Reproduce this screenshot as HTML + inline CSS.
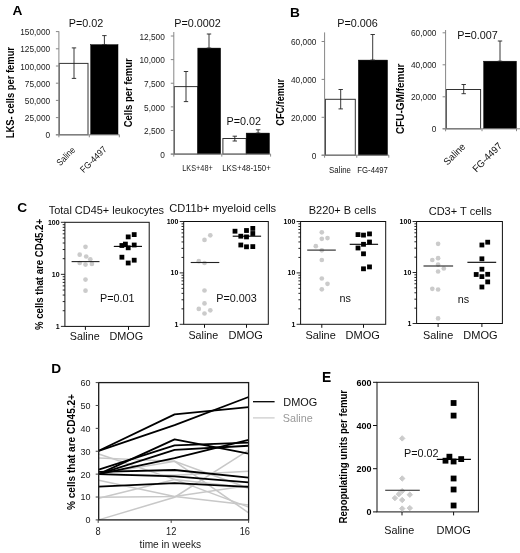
<!DOCTYPE html>
<html><head><meta charset="utf-8"><title>Figure</title>
<style>
html,body{margin:0;padding:0;background:#fff;}
body{width:520px;height:553px;overflow:hidden;}
svg{display:block;font-family:"Liberation Sans", sans-serif;}
</style></head>
<body>
<svg width="520" height="553" viewBox="0 0 520 553">
<defs><filter id="soft" x="0" y="0" width="100%" height="100%" filterUnits="userSpaceOnUse"><feGaussianBlur stdDeviation="0.38"/></filter></defs>
<rect x="0" y="0" width="520" height="553" fill="#ffffff"/>
<g filter="url(#soft)">
<rect x="0" y="0" width="520" height="553" fill="#ffffff"/>
<text x="12.6" y="15.2" font-size="13.7" font-weight="bold" text-anchor="start" fill="#000" >A</text>
<text x="290.0" y="16.7" font-size="13.7" font-weight="bold" text-anchor="start" fill="#000" >B</text>
<text x="17.2" y="211.9" font-size="13.7" font-weight="bold" text-anchor="start" fill="#000" >C</text>
<text x="51.2" y="373.3" font-size="13.7" font-weight="bold" text-anchor="start" fill="#000" >D</text>
<text x="322.0" y="382.1" font-size="13.8" font-weight="bold" text-anchor="start" fill="#000" >E</text>
<rect x="59.2" y="63.4" width="28.799999999999997" height="71.4" fill="#fff" stroke="#333" stroke-width="1"/>
<rect x="90.7" y="44.7" width="27.299999999999997" height="90.10000000000001" fill="#000" stroke="#000" stroke-width="0.5"/>
<line x1="74" y1="47.9" x2="74" y2="78.4" stroke="#222" stroke-width="0.9" />
<line x1="71.8" y1="47.9" x2="76.2" y2="47.9" stroke="#222" stroke-width="0.9" />
<line x1="71.8" y1="78.4" x2="76.2" y2="78.4" stroke="#222" stroke-width="0.9" />
<line x1="104.4" y1="35.6" x2="104.4" y2="44.7" stroke="#222" stroke-width="0.9" />
<line x1="102.2" y1="35.6" x2="106.60000000000001" y2="35.6" stroke="#222" stroke-width="0.9" />
<line x1="102.2" y1="44.7" x2="106.60000000000001" y2="44.7" stroke="#222" stroke-width="0.9" />
<line x1="58.9" y1="31.3" x2="58.9" y2="137.3" stroke="#868686" stroke-width="1" />
<line x1="55.9" y1="134.8" x2="119.5" y2="134.8" stroke="#868686" stroke-width="1" />
<line x1="55.9" y1="134.8" x2="58.9" y2="134.8" stroke="#868686" stroke-width="1" />
<text x="50.2" y="138.488" font-size="9.38" font-weight="normal" text-anchor="end" fill="#1a1a1a" textLength="4.62" lengthAdjust="spacingAndGlyphs" >0</text>
<line x1="55.9" y1="117.60000000000001" x2="58.9" y2="117.60000000000001" stroke="#868686" stroke-width="1" />
<text x="50.2" y="121.28800000000001" font-size="9.38" font-weight="normal" text-anchor="end" fill="#1a1a1a" textLength="25.39" lengthAdjust="spacingAndGlyphs" >25,000</text>
<line x1="55.9" y1="100.4" x2="58.9" y2="100.4" stroke="#868686" stroke-width="1" />
<text x="50.2" y="104.08800000000001" font-size="9.38" font-weight="normal" text-anchor="end" fill="#1a1a1a" textLength="25.39" lengthAdjust="spacingAndGlyphs" >50,000</text>
<line x1="55.9" y1="83.20000000000002" x2="58.9" y2="83.20000000000002" stroke="#868686" stroke-width="1" />
<text x="50.2" y="86.88800000000002" font-size="9.38" font-weight="normal" text-anchor="end" fill="#1a1a1a" textLength="25.39" lengthAdjust="spacingAndGlyphs" >75,000</text>
<line x1="55.9" y1="66.00000000000001" x2="58.9" y2="66.00000000000001" stroke="#868686" stroke-width="1" />
<text x="50.2" y="69.68800000000002" font-size="9.38" font-weight="normal" text-anchor="end" fill="#1a1a1a" textLength="30.0" lengthAdjust="spacingAndGlyphs" >100,000</text>
<line x1="55.9" y1="48.80000000000001" x2="58.9" y2="48.80000000000001" stroke="#868686" stroke-width="1" />
<text x="50.2" y="52.488000000000014" font-size="9.38" font-weight="normal" text-anchor="end" fill="#1a1a1a" textLength="30.0" lengthAdjust="spacingAndGlyphs" >125,000</text>
<line x1="55.9" y1="31.600000000000023" x2="58.9" y2="31.600000000000023" stroke="#868686" stroke-width="1" />
<text x="50.2" y="35.288000000000025" font-size="9.38" font-weight="normal" text-anchor="end" fill="#1a1a1a" textLength="30.0" lengthAdjust="spacingAndGlyphs" >150,000</text>
<line x1="89.3" y1="134.8" x2="89.3" y2="137.3" stroke="#868686" stroke-width="1" />
<line x1="119.3" y1="134.8" x2="119.3" y2="137.3" stroke="#868686" stroke-width="1" />
<text x="86" y="27.099999999999998" font-size="10.8" font-weight="normal" text-anchor="middle" fill="#111" >P=0.02</text>
<text x="14.1" y="92.6" font-size="11.21" font-weight="bold" text-anchor="middle" fill="#000" transform="rotate(-90 14.1 92.6)" textLength="91.2" lengthAdjust="spacingAndGlyphs" >LKS- cells per femur</text>
<text x="75.8" y="150.6" font-size="9.2" font-weight="normal" text-anchor="end" fill="#111" transform="rotate(-45 75.8 150.6)" textLength="22" lengthAdjust="spacingAndGlyphs" >Saline</text>
<text x="107.2" y="150.0" font-size="9.2" font-weight="normal" text-anchor="end" fill="#111" transform="rotate(-45 107.2 150.0)" textLength="33" lengthAdjust="spacingAndGlyphs" >FG-4497</text>
<rect x="174.3" y="86.6" width="23.5" height="67.5" fill="#fff" stroke="#333" stroke-width="1"/>
<rect x="197.8" y="48.1" width="22.799999999999983" height="106.0" fill="#000" stroke="#000" stroke-width="0.5"/>
<rect x="222.9" y="138.5" width="23.299999999999983" height="15.599999999999994" fill="#fff" stroke="#333" stroke-width="1"/>
<rect x="246.2" y="133.1" width="23.19999999999999" height="21.0" fill="#000" stroke="#000" stroke-width="0.5"/>
<line x1="186" y1="71.5" x2="186" y2="101.6" stroke="#222" stroke-width="0.9" />
<line x1="183.8" y1="71.5" x2="188.2" y2="71.5" stroke="#222" stroke-width="0.9" />
<line x1="183.8" y1="101.6" x2="188.2" y2="101.6" stroke="#222" stroke-width="0.9" />
<line x1="209" y1="34" x2="209" y2="48.1" stroke="#222" stroke-width="0.9" />
<line x1="206.8" y1="34" x2="211.2" y2="34" stroke="#222" stroke-width="0.9" />
<line x1="206.8" y1="48.1" x2="211.2" y2="48.1" stroke="#222" stroke-width="0.9" />
<line x1="234.8" y1="136.2" x2="234.8" y2="141" stroke="#222" stroke-width="0.9" />
<line x1="232.60000000000002" y1="136.2" x2="237.0" y2="136.2" stroke="#222" stroke-width="0.9" />
<line x1="232.60000000000002" y1="141" x2="237.0" y2="141" stroke="#222" stroke-width="0.9" />
<line x1="258.1" y1="129.8" x2="258.1" y2="133.1" stroke="#222" stroke-width="0.9" />
<line x1="255.90000000000003" y1="129.8" x2="260.3" y2="129.8" stroke="#222" stroke-width="0.9" />
<line x1="255.90000000000003" y1="133.1" x2="260.3" y2="133.1" stroke="#222" stroke-width="0.9" />
<line x1="173.8" y1="32" x2="173.8" y2="156.6" stroke="#868686" stroke-width="1" />
<line x1="170.8" y1="154.1" x2="270.8" y2="154.1" stroke="#868686" stroke-width="1" />
<line x1="170.8" y1="154.1" x2="173.8" y2="154.1" stroke="#868686" stroke-width="1" />
<text x="164.8" y="157.78799999999998" font-size="9.38" font-weight="normal" text-anchor="end" fill="#1a1a1a" textLength="4.62" lengthAdjust="spacingAndGlyphs" >0</text>
<line x1="170.8" y1="130.48" x2="173.8" y2="130.48" stroke="#868686" stroke-width="1" />
<text x="164.8" y="134.16799999999998" font-size="9.38" font-weight="normal" text-anchor="end" fill="#1a1a1a" textLength="20.77" lengthAdjust="spacingAndGlyphs" >2,500</text>
<line x1="170.8" y1="106.85999999999999" x2="173.8" y2="106.85999999999999" stroke="#868686" stroke-width="1" />
<text x="164.8" y="110.54799999999999" font-size="9.38" font-weight="normal" text-anchor="end" fill="#1a1a1a" textLength="20.77" lengthAdjust="spacingAndGlyphs" >5,000</text>
<line x1="170.8" y1="83.24" x2="173.8" y2="83.24" stroke="#868686" stroke-width="1" />
<text x="164.8" y="86.928" font-size="9.38" font-weight="normal" text-anchor="end" fill="#1a1a1a" textLength="20.77" lengthAdjust="spacingAndGlyphs" >7,500</text>
<line x1="170.8" y1="59.61999999999999" x2="173.8" y2="59.61999999999999" stroke="#868686" stroke-width="1" />
<text x="164.8" y="63.30799999999999" font-size="9.38" font-weight="normal" text-anchor="end" fill="#1a1a1a" textLength="25.39" lengthAdjust="spacingAndGlyphs" >10,000</text>
<line x1="170.8" y1="35.999999999999986" x2="173.8" y2="35.999999999999986" stroke="#868686" stroke-width="1" />
<text x="164.8" y="39.68799999999999" font-size="9.38" font-weight="normal" text-anchor="end" fill="#1a1a1a" textLength="25.39" lengthAdjust="spacingAndGlyphs" >12,500</text>
<line x1="221.8" y1="154.1" x2="221.8" y2="156.6" stroke="#868686" stroke-width="1" />
<line x1="270.6" y1="154.1" x2="270.6" y2="156.6" stroke="#868686" stroke-width="1" />
<text x="197.5" y="27" font-size="10.8" font-weight="normal" text-anchor="middle" fill="#111" >P=0.0002</text>
<text x="243.8" y="124.5" font-size="10.8" font-weight="normal" text-anchor="middle" fill="#111" >P=0.02</text>
<text x="132.4" y="92.8" font-size="11.21" font-weight="bold" text-anchor="middle" fill="#000" transform="rotate(-90 132.4 92.8)" textLength="69" lengthAdjust="spacingAndGlyphs" >Cells per femur</text>
<text x="197.5" y="171.0" font-size="8.74" font-weight="normal" text-anchor="middle" fill="#1a1a1a" textLength="30.5" lengthAdjust="spacingAndGlyphs" >LKS+48+</text>
<text x="246.5" y="171.0" font-size="8.74" font-weight="normal" text-anchor="middle" fill="#1a1a1a" textLength="48.5" lengthAdjust="spacingAndGlyphs" >LKS+48-150+</text>
<rect x="325.4" y="99.3" width="29.900000000000034" height="55.89999999999999" fill="#fff" stroke="#333" stroke-width="1"/>
<rect x="358.4" y="60.1" width="29.100000000000023" height="95.1" fill="#000" stroke="#000" stroke-width="0.5"/>
<line x1="340.7" y1="89.5" x2="340.7" y2="108.9" stroke="#222" stroke-width="0.9" />
<line x1="338.5" y1="89.5" x2="342.9" y2="89.5" stroke="#222" stroke-width="0.9" />
<line x1="338.5" y1="108.9" x2="342.9" y2="108.9" stroke="#222" stroke-width="0.9" />
<line x1="372.7" y1="34.5" x2="372.7" y2="60.1" stroke="#222" stroke-width="0.9" />
<line x1="370.5" y1="34.5" x2="374.9" y2="34.5" stroke="#222" stroke-width="0.9" />
<line x1="370.5" y1="60.1" x2="374.9" y2="60.1" stroke="#222" stroke-width="0.9" />
<line x1="324.6" y1="32.4" x2="324.6" y2="157.7" stroke="#868686" stroke-width="1" />
<line x1="321.6" y1="155.2" x2="389" y2="155.2" stroke="#868686" stroke-width="1" />
<line x1="321.6" y1="155.2" x2="324.6" y2="155.2" stroke="#868686" stroke-width="1" />
<text x="316.4" y="158.88799999999998" font-size="9.38" font-weight="normal" text-anchor="end" fill="#1a1a1a" textLength="4.62" lengthAdjust="spacingAndGlyphs" >0</text>
<line x1="321.6" y1="117.29999999999998" x2="324.6" y2="117.29999999999998" stroke="#868686" stroke-width="1" />
<text x="316.4" y="120.98799999999999" font-size="9.38" font-weight="normal" text-anchor="end" fill="#1a1a1a" textLength="25.39" lengthAdjust="spacingAndGlyphs" >20,000</text>
<line x1="321.6" y1="79.39999999999999" x2="324.6" y2="79.39999999999999" stroke="#868686" stroke-width="1" />
<text x="316.4" y="83.088" font-size="9.38" font-weight="normal" text-anchor="end" fill="#1a1a1a" textLength="25.39" lengthAdjust="spacingAndGlyphs" >40,000</text>
<line x1="321.6" y1="41.5" x2="324.6" y2="41.5" stroke="#868686" stroke-width="1" />
<text x="316.4" y="45.188" font-size="9.38" font-weight="normal" text-anchor="end" fill="#1a1a1a" textLength="25.39" lengthAdjust="spacingAndGlyphs" >60,000</text>
<line x1="356.8" y1="155.2" x2="356.8" y2="157.7" stroke="#868686" stroke-width="1" />
<line x1="388.8" y1="155.2" x2="388.8" y2="157.7" stroke="#868686" stroke-width="1" />
<text x="357.5" y="27" font-size="10.8" font-weight="normal" text-anchor="middle" fill="#111" >P=0.006</text>
<text x="284.3" y="102.3" font-size="11.21" font-weight="bold" text-anchor="middle" fill="#000" transform="rotate(-90 284.3 102.3)" textLength="46.8" lengthAdjust="spacingAndGlyphs" >CFC/femur</text>
<text x="340.0" y="172.5" font-size="9.41" font-weight="normal" text-anchor="middle" fill="#111" textLength="21.8" lengthAdjust="spacingAndGlyphs" >Saline</text>
<text x="372.6" y="172.5" font-size="9.35" font-weight="normal" text-anchor="middle" fill="#111" textLength="30.5" lengthAdjust="spacingAndGlyphs" >FG-4497</text>
<rect x="446.3" y="89.5" width="34.30000000000001" height="39.30000000000001" fill="#fff" stroke="#333" stroke-width="1"/>
<rect x="483.7" y="61.2" width="32.69999999999999" height="67.60000000000001" fill="#000" stroke="#000" stroke-width="0.5"/>
<line x1="463.7" y1="84.5" x2="463.7" y2="93.7" stroke="#222" stroke-width="0.9" />
<line x1="461.5" y1="84.5" x2="465.9" y2="84.5" stroke="#222" stroke-width="0.9" />
<line x1="461.5" y1="93.7" x2="465.9" y2="93.7" stroke="#222" stroke-width="0.9" />
<line x1="500" y1="41" x2="500" y2="61.2" stroke="#222" stroke-width="0.9" />
<line x1="497.8" y1="41" x2="502.2" y2="41" stroke="#222" stroke-width="0.9" />
<line x1="497.8" y1="61.2" x2="502.2" y2="61.2" stroke="#222" stroke-width="0.9" />
<line x1="445.6" y1="30" x2="445.6" y2="131.3" stroke="#868686" stroke-width="1" />
<line x1="442.6" y1="128.8" x2="520" y2="128.8" stroke="#868686" stroke-width="1" />
<line x1="442.6" y1="128.8" x2="445.6" y2="128.8" stroke="#868686" stroke-width="1" />
<text x="436.4" y="132.488" font-size="9.38" font-weight="normal" text-anchor="end" fill="#1a1a1a" textLength="4.62" lengthAdjust="spacingAndGlyphs" >0</text>
<line x1="442.6" y1="96.80000000000001" x2="445.6" y2="96.80000000000001" stroke="#868686" stroke-width="1" />
<text x="436.4" y="100.48800000000001" font-size="9.38" font-weight="normal" text-anchor="end" fill="#1a1a1a" textLength="25.39" lengthAdjust="spacingAndGlyphs" >20,000</text>
<line x1="442.6" y1="64.80000000000001" x2="445.6" y2="64.80000000000001" stroke="#868686" stroke-width="1" />
<text x="436.4" y="68.48800000000001" font-size="9.38" font-weight="normal" text-anchor="end" fill="#1a1a1a" textLength="25.39" lengthAdjust="spacingAndGlyphs" >40,000</text>
<line x1="442.6" y1="32.80000000000001" x2="445.6" y2="32.80000000000001" stroke="#868686" stroke-width="1" />
<text x="436.4" y="36.488000000000014" font-size="9.38" font-weight="normal" text-anchor="end" fill="#1a1a1a" textLength="25.39" lengthAdjust="spacingAndGlyphs" >60,000</text>
<line x1="482" y1="128.75" x2="482" y2="131.2" stroke="#868686" stroke-width="1" />
<line x1="516.5" y1="128.75" x2="516.5" y2="131.2" stroke="#868686" stroke-width="1" />
<text x="477.5" y="38.5" font-size="10.8" font-weight="normal" text-anchor="middle" fill="#111" >P=0.007</text>
<text x="404" y="98.8" font-size="11.21" font-weight="bold" text-anchor="middle" fill="#000" transform="rotate(-90 404 98.8)" textLength="70.6" lengthAdjust="spacingAndGlyphs" >CFU-GM/femur</text>
<text x="466" y="147.3" font-size="9.9" font-weight="normal" text-anchor="end" fill="#111" transform="rotate(-45 466 147.3)" textLength="26" lengthAdjust="spacingAndGlyphs" >Saline</text>
<text x="502.6" y="146.6" font-size="9.9" font-weight="normal" text-anchor="end" fill="#111" transform="rotate(-45 502.6 146.6)" textLength="37" lengthAdjust="spacingAndGlyphs" >FG-4497</text>
<rect x="64.9" y="222.3" width="84.29999999999998" height="104.09999999999997" fill="none" stroke="#111" stroke-width="1"/>
<line x1="60.900000000000006" y1="326.4" x2="64.9" y2="326.4" stroke="#111" stroke-width="0.9" />
<line x1="62.7" y1="310.73" x2="64.9" y2="310.73" stroke="#111" stroke-width="0.9" />
<line x1="62.7" y1="301.57" x2="64.9" y2="301.57" stroke="#111" stroke-width="0.9" />
<line x1="62.7" y1="295.06" x2="64.9" y2="295.06" stroke="#111" stroke-width="0.9" />
<line x1="62.7" y1="290.02" x2="64.9" y2="290.02" stroke="#111" stroke-width="0.9" />
<line x1="62.7" y1="285.9" x2="64.9" y2="285.9" stroke="#111" stroke-width="0.9" />
<line x1="62.7" y1="282.41" x2="64.9" y2="282.41" stroke="#111" stroke-width="0.9" />
<line x1="62.7" y1="279.39" x2="64.9" y2="279.39" stroke="#111" stroke-width="0.9" />
<line x1="62.7" y1="276.73" x2="64.9" y2="276.73" stroke="#111" stroke-width="0.9" />
<line x1="60.900000000000006" y1="274.35" x2="64.9" y2="274.35" stroke="#111" stroke-width="0.9" />
<line x1="62.7" y1="258.68" x2="64.9" y2="258.68" stroke="#111" stroke-width="0.9" />
<line x1="62.7" y1="249.52" x2="64.9" y2="249.52" stroke="#111" stroke-width="0.9" />
<line x1="62.7" y1="243.01" x2="64.9" y2="243.01" stroke="#111" stroke-width="0.9" />
<line x1="62.7" y1="237.97" x2="64.9" y2="237.97" stroke="#111" stroke-width="0.9" />
<line x1="62.7" y1="233.85" x2="64.9" y2="233.85" stroke="#111" stroke-width="0.9" />
<line x1="62.7" y1="230.36" x2="64.9" y2="230.36" stroke="#111" stroke-width="0.9" />
<line x1="62.7" y1="227.34" x2="64.9" y2="227.34" stroke="#111" stroke-width="0.9" />
<line x1="62.7" y1="224.68" x2="64.9" y2="224.68" stroke="#111" stroke-width="0.9" />
<line x1="60.900000000000006" y1="222.3" x2="64.9" y2="222.3" stroke="#111" stroke-width="0.9" />
<text x="59.60000000000001" y="224.60000000000002" font-size="7.56" font-weight="bold" text-anchor="end" fill="#000" textLength="11.68" lengthAdjust="spacingAndGlyphs" >100</text>
<text x="59.60000000000001" y="276.65000000000003" font-size="7.56" font-weight="bold" text-anchor="end" fill="#000" textLength="7.79" lengthAdjust="spacingAndGlyphs" >10</text>
<text x="59.60000000000001" y="328.7" font-size="7.56" font-weight="bold" text-anchor="end" fill="#000" textLength="3.89" lengthAdjust="spacingAndGlyphs" >1</text>
<line x1="85.4" y1="326.4" x2="85.4" y2="329.9" stroke="#111" stroke-width="1" />
<line x1="128.5" y1="326.4" x2="128.5" y2="329.9" stroke="#111" stroke-width="1" />
<circle cx="85.5" cy="246.8" r="2.35" fill="#cbcbcb"/>
<circle cx="79.7" cy="254.7" r="2.35" fill="#cbcbcb"/>
<circle cx="86.2" cy="256.5" r="2.35" fill="#cbcbcb"/>
<circle cx="90.3" cy="259.3" r="2.35" fill="#cbcbcb"/>
<circle cx="79.7" cy="263" r="2.35" fill="#cbcbcb"/>
<circle cx="85.5" cy="264.6" r="2.35" fill="#cbcbcb"/>
<circle cx="91.9" cy="263.9" r="2.35" fill="#cbcbcb"/>
<circle cx="85.5" cy="279.6" r="2.35" fill="#cbcbcb"/>
<circle cx="85.5" cy="290.7" r="2.35" fill="#cbcbcb"/>
<rect x="125.8" y="234.5" width="4.8" height="4.8" fill="#000" stroke="none" stroke-width="1"/>
<rect x="131.8" y="232.2" width="4.8" height="4.8" fill="#000" stroke="none" stroke-width="1"/>
<rect x="119.5" y="243.1" width="4.8" height="4.8" fill="#000" stroke="none" stroke-width="1"/>
<rect x="123.0" y="241.7" width="4.8" height="4.8" fill="#000" stroke="none" stroke-width="1"/>
<rect x="125.8" y="245.4" width="4.8" height="4.8" fill="#000" stroke="none" stroke-width="1"/>
<rect x="131.8" y="242.6" width="4.8" height="4.8" fill="#000" stroke="none" stroke-width="1"/>
<rect x="119.5" y="254.8" width="4.8" height="4.8" fill="#000" stroke="none" stroke-width="1"/>
<rect x="125.8" y="260.6" width="4.8" height="4.8" fill="#000" stroke="none" stroke-width="1"/>
<rect x="131.8" y="257.8" width="4.8" height="4.8" fill="#000" stroke="none" stroke-width="1"/>
<line x1="71.6" y1="261.6" x2="99.5" y2="261.6" stroke="#222" stroke-width="1.1" />
<line x1="113.8" y1="246.4" x2="142" y2="246.4" stroke="#000" stroke-width="1.1" />
<text x="117.3" y="301.9" font-size="10.8" font-weight="normal" text-anchor="middle" fill="#111" >P=0.01</text>
<text x="48.7" y="214.3" font-size="10.5" font-weight="normal" text-anchor="start" fill="#111" textLength="115.3" lengthAdjust="spacingAndGlyphs" >Total CD45+ leukocytes</text>
<text x="69.8" y="340.2" font-size="10.8" font-weight="normal" text-anchor="start" fill="#111" textLength="29.8" lengthAdjust="spacingAndGlyphs" >Saline</text>
<text x="109.4" y="340.2" font-size="10.8" font-weight="normal" text-anchor="start" fill="#111" textLength="33.8" lengthAdjust="spacingAndGlyphs" >DMOG</text>
<rect x="183.7" y="221.5" width="84.60000000000002" height="102.80000000000001" fill="none" stroke="#111" stroke-width="1"/>
<line x1="179.7" y1="324.3" x2="183.7" y2="324.3" stroke="#111" stroke-width="0.9" />
<line x1="181.5" y1="308.83" x2="183.7" y2="308.83" stroke="#111" stroke-width="0.9" />
<line x1="181.5" y1="299.78" x2="183.7" y2="299.78" stroke="#111" stroke-width="0.9" />
<line x1="181.5" y1="293.35" x2="183.7" y2="293.35" stroke="#111" stroke-width="0.9" />
<line x1="181.5" y1="288.37" x2="183.7" y2="288.37" stroke="#111" stroke-width="0.9" />
<line x1="181.5" y1="284.3" x2="183.7" y2="284.3" stroke="#111" stroke-width="0.9" />
<line x1="181.5" y1="280.86" x2="183.7" y2="280.86" stroke="#111" stroke-width="0.9" />
<line x1="181.5" y1="277.88" x2="183.7" y2="277.88" stroke="#111" stroke-width="0.9" />
<line x1="181.5" y1="275.25" x2="183.7" y2="275.25" stroke="#111" stroke-width="0.9" />
<line x1="179.7" y1="272.9" x2="183.7" y2="272.9" stroke="#111" stroke-width="0.9" />
<line x1="181.5" y1="257.43" x2="183.7" y2="257.43" stroke="#111" stroke-width="0.9" />
<line x1="181.5" y1="248.38" x2="183.7" y2="248.38" stroke="#111" stroke-width="0.9" />
<line x1="181.5" y1="241.95" x2="183.7" y2="241.95" stroke="#111" stroke-width="0.9" />
<line x1="181.5" y1="236.97" x2="183.7" y2="236.97" stroke="#111" stroke-width="0.9" />
<line x1="181.5" y1="232.9" x2="183.7" y2="232.9" stroke="#111" stroke-width="0.9" />
<line x1="181.5" y1="229.46" x2="183.7" y2="229.46" stroke="#111" stroke-width="0.9" />
<line x1="181.5" y1="226.48" x2="183.7" y2="226.48" stroke="#111" stroke-width="0.9" />
<line x1="181.5" y1="223.85" x2="183.7" y2="223.85" stroke="#111" stroke-width="0.9" />
<line x1="179.7" y1="221.5" x2="183.7" y2="221.5" stroke="#111" stroke-width="0.9" />
<text x="178.39999999999998" y="223.8" font-size="7.56" font-weight="bold" text-anchor="end" fill="#000" textLength="11.68" lengthAdjust="spacingAndGlyphs" >100</text>
<text x="178.39999999999998" y="275.2" font-size="7.56" font-weight="bold" text-anchor="end" fill="#000" textLength="7.79" lengthAdjust="spacingAndGlyphs" >10</text>
<text x="178.39999999999998" y="326.6" font-size="7.56" font-weight="bold" text-anchor="end" fill="#000" textLength="3.89" lengthAdjust="spacingAndGlyphs" >1</text>
<line x1="204.5" y1="324.3" x2="204.5" y2="327.8" stroke="#111" stroke-width="1" />
<line x1="246.5" y1="324.3" x2="246.5" y2="327.8" stroke="#111" stroke-width="1" />
<circle cx="210.3" cy="235.3" r="2.35" fill="#cbcbcb"/>
<circle cx="204.5" cy="239.9" r="2.35" fill="#cbcbcb"/>
<circle cx="198.8" cy="261.2" r="2.35" fill="#cbcbcb"/>
<circle cx="204.5" cy="263" r="2.35" fill="#cbcbcb"/>
<circle cx="204.5" cy="290.5" r="2.35" fill="#cbcbcb"/>
<circle cx="204.5" cy="303.4" r="2.35" fill="#cbcbcb"/>
<circle cx="198.8" cy="308.9" r="2.35" fill="#cbcbcb"/>
<circle cx="210.3" cy="310.3" r="2.35" fill="#cbcbcb"/>
<circle cx="204.5" cy="313.5" r="2.35" fill="#cbcbcb"/>
<rect x="232.6" y="228.8" width="4.8" height="4.8" fill="#000" stroke="none" stroke-width="1"/>
<rect x="244.1" y="228.1" width="4.8" height="4.8" fill="#000" stroke="none" stroke-width="1"/>
<rect x="250.4" y="226.0" width="4.8" height="4.8" fill="#000" stroke="none" stroke-width="1"/>
<rect x="238.4" y="233.8" width="4.8" height="4.8" fill="#000" stroke="none" stroke-width="1"/>
<rect x="244.1" y="234.5" width="4.8" height="4.8" fill="#000" stroke="none" stroke-width="1"/>
<rect x="250.4" y="231.1" width="4.8" height="4.8" fill="#000" stroke="none" stroke-width="1"/>
<rect x="238.4" y="242.6" width="4.8" height="4.8" fill="#000" stroke="none" stroke-width="1"/>
<rect x="244.1" y="244.4" width="4.8" height="4.8" fill="#000" stroke="none" stroke-width="1"/>
<rect x="250.4" y="244.2" width="4.8" height="4.8" fill="#000" stroke="none" stroke-width="1"/>
<line x1="190.7" y1="262.5" x2="219.3" y2="262.5" stroke="#222" stroke-width="1.1" />
<line x1="232.7" y1="236.2" x2="261.1" y2="236.2" stroke="#000" stroke-width="1.1" />
<text x="236.6" y="301.9" font-size="10.8" font-weight="normal" text-anchor="middle" fill="#111" >P=0.003</text>
<text x="169.2" y="212.3" font-size="10.5" font-weight="normal" text-anchor="start" fill="#111" textLength="107" lengthAdjust="spacingAndGlyphs" >CD11b+ myeloid cells</text>
<text x="188.4" y="338.8" font-size="10.8" font-weight="normal" text-anchor="start" fill="#111" textLength="29.8" lengthAdjust="spacingAndGlyphs" >Saline</text>
<text x="228.5" y="338.8" font-size="10.8" font-weight="normal" text-anchor="start" fill="#111" textLength="34.3" lengthAdjust="spacingAndGlyphs" >DMOG</text>
<rect x="300.6" y="221.5" width="85.09999999999997" height="102.80000000000001" fill="none" stroke="#111" stroke-width="1"/>
<line x1="296.6" y1="324.3" x2="300.6" y2="324.3" stroke="#111" stroke-width="0.9" />
<line x1="298.40000000000003" y1="308.83" x2="300.6" y2="308.83" stroke="#111" stroke-width="0.9" />
<line x1="298.40000000000003" y1="299.78" x2="300.6" y2="299.78" stroke="#111" stroke-width="0.9" />
<line x1="298.40000000000003" y1="293.35" x2="300.6" y2="293.35" stroke="#111" stroke-width="0.9" />
<line x1="298.40000000000003" y1="288.37" x2="300.6" y2="288.37" stroke="#111" stroke-width="0.9" />
<line x1="298.40000000000003" y1="284.3" x2="300.6" y2="284.3" stroke="#111" stroke-width="0.9" />
<line x1="298.40000000000003" y1="280.86" x2="300.6" y2="280.86" stroke="#111" stroke-width="0.9" />
<line x1="298.40000000000003" y1="277.88" x2="300.6" y2="277.88" stroke="#111" stroke-width="0.9" />
<line x1="298.40000000000003" y1="275.25" x2="300.6" y2="275.25" stroke="#111" stroke-width="0.9" />
<line x1="296.6" y1="272.9" x2="300.6" y2="272.9" stroke="#111" stroke-width="0.9" />
<line x1="298.40000000000003" y1="257.43" x2="300.6" y2="257.43" stroke="#111" stroke-width="0.9" />
<line x1="298.40000000000003" y1="248.38" x2="300.6" y2="248.38" stroke="#111" stroke-width="0.9" />
<line x1="298.40000000000003" y1="241.95" x2="300.6" y2="241.95" stroke="#111" stroke-width="0.9" />
<line x1="298.40000000000003" y1="236.97" x2="300.6" y2="236.97" stroke="#111" stroke-width="0.9" />
<line x1="298.40000000000003" y1="232.9" x2="300.6" y2="232.9" stroke="#111" stroke-width="0.9" />
<line x1="298.40000000000003" y1="229.46" x2="300.6" y2="229.46" stroke="#111" stroke-width="0.9" />
<line x1="298.40000000000003" y1="226.48" x2="300.6" y2="226.48" stroke="#111" stroke-width="0.9" />
<line x1="298.40000000000003" y1="223.85" x2="300.6" y2="223.85" stroke="#111" stroke-width="0.9" />
<line x1="296.6" y1="221.5" x2="300.6" y2="221.5" stroke="#111" stroke-width="0.9" />
<text x="295.3" y="223.8" font-size="7.56" font-weight="bold" text-anchor="end" fill="#000" textLength="11.68" lengthAdjust="spacingAndGlyphs" >100</text>
<text x="295.3" y="275.2" font-size="7.56" font-weight="bold" text-anchor="end" fill="#000" textLength="7.79" lengthAdjust="spacingAndGlyphs" >10</text>
<text x="295.3" y="326.6" font-size="7.56" font-weight="bold" text-anchor="end" fill="#000" textLength="3.89" lengthAdjust="spacingAndGlyphs" >1</text>
<line x1="321.8" y1="324.3" x2="321.8" y2="327.8" stroke="#111" stroke-width="1" />
<line x1="363.5" y1="324.3" x2="363.5" y2="327.8" stroke="#111" stroke-width="1" />
<circle cx="321.8" cy="232.3" r="2.35" fill="#cbcbcb"/>
<circle cx="321.8" cy="238.8" r="2.35" fill="#cbcbcb"/>
<circle cx="327.5" cy="238.1" r="2.35" fill="#cbcbcb"/>
<circle cx="315.8" cy="246.2" r="2.35" fill="#cbcbcb"/>
<circle cx="321.8" cy="250.3" r="2.35" fill="#cbcbcb"/>
<circle cx="321.8" cy="260" r="2.35" fill="#cbcbcb"/>
<circle cx="321.8" cy="278.5" r="2.35" fill="#cbcbcb"/>
<circle cx="327.5" cy="283.8" r="2.35" fill="#cbcbcb"/>
<circle cx="321.8" cy="289.3" r="2.35" fill="#cbcbcb"/>
<rect x="355.6" y="232.2" width="4.8" height="4.8" fill="#000" stroke="none" stroke-width="1"/>
<rect x="361.1" y="232.7" width="4.8" height="4.8" fill="#000" stroke="none" stroke-width="1"/>
<rect x="367.1" y="231.5" width="4.8" height="4.8" fill="#000" stroke="none" stroke-width="1"/>
<rect x="367.1" y="239.6" width="4.8" height="4.8" fill="#000" stroke="none" stroke-width="1"/>
<rect x="361.1" y="241.9" width="4.8" height="4.8" fill="#000" stroke="none" stroke-width="1"/>
<rect x="355.6" y="245.6" width="4.8" height="4.8" fill="#000" stroke="none" stroke-width="1"/>
<rect x="361.1" y="251.4" width="4.8" height="4.8" fill="#000" stroke="none" stroke-width="1"/>
<rect x="361.1" y="266.4" width="4.8" height="4.8" fill="#000" stroke="none" stroke-width="1"/>
<rect x="367.1" y="264.5" width="4.8" height="4.8" fill="#000" stroke="none" stroke-width="1"/>
<line x1="307.2" y1="250.1" x2="335.8" y2="250.1" stroke="#222" stroke-width="1.1" />
<line x1="349.7" y1="244.3" x2="378.1" y2="244.3" stroke="#000" stroke-width="1.1" />
<text x="345.3" y="301.5" font-size="10.8" font-weight="normal" text-anchor="middle" fill="#111" >ns</text>
<text x="308.7" y="213.7" font-size="10.5" font-weight="normal" text-anchor="start" fill="#111" textLength="67.5" lengthAdjust="spacingAndGlyphs" >B220+ B cells</text>
<text x="305.4" y="338.8" font-size="10.8" font-weight="normal" text-anchor="start" fill="#111" textLength="30.4" lengthAdjust="spacingAndGlyphs" >Saline</text>
<text x="345.5" y="338.8" font-size="10.8" font-weight="normal" text-anchor="start" fill="#111" textLength="34.3" lengthAdjust="spacingAndGlyphs" >DMOG</text>
<rect x="416.6" y="221.5" width="85.79999999999995" height="102.0" fill="none" stroke="#111" stroke-width="1"/>
<line x1="412.6" y1="323.5" x2="416.6" y2="323.5" stroke="#111" stroke-width="0.9" />
<line x1="414.40000000000003" y1="308.15" x2="416.6" y2="308.15" stroke="#111" stroke-width="0.9" />
<line x1="414.40000000000003" y1="299.17" x2="416.6" y2="299.17" stroke="#111" stroke-width="0.9" />
<line x1="414.40000000000003" y1="292.79" x2="416.6" y2="292.79" stroke="#111" stroke-width="0.9" />
<line x1="414.40000000000003" y1="287.85" x2="416.6" y2="287.85" stroke="#111" stroke-width="0.9" />
<line x1="414.40000000000003" y1="283.81" x2="416.6" y2="283.81" stroke="#111" stroke-width="0.9" />
<line x1="414.40000000000003" y1="280.4" x2="416.6" y2="280.4" stroke="#111" stroke-width="0.9" />
<line x1="414.40000000000003" y1="277.44" x2="416.6" y2="277.44" stroke="#111" stroke-width="0.9" />
<line x1="414.40000000000003" y1="274.83" x2="416.6" y2="274.83" stroke="#111" stroke-width="0.9" />
<line x1="412.6" y1="272.5" x2="416.6" y2="272.5" stroke="#111" stroke-width="0.9" />
<line x1="414.40000000000003" y1="257.15" x2="416.6" y2="257.15" stroke="#111" stroke-width="0.9" />
<line x1="414.40000000000003" y1="248.17" x2="416.6" y2="248.17" stroke="#111" stroke-width="0.9" />
<line x1="414.40000000000003" y1="241.79" x2="416.6" y2="241.79" stroke="#111" stroke-width="0.9" />
<line x1="414.40000000000003" y1="236.85" x2="416.6" y2="236.85" stroke="#111" stroke-width="0.9" />
<line x1="414.40000000000003" y1="232.81" x2="416.6" y2="232.81" stroke="#111" stroke-width="0.9" />
<line x1="414.40000000000003" y1="229.4" x2="416.6" y2="229.4" stroke="#111" stroke-width="0.9" />
<line x1="414.40000000000003" y1="226.44" x2="416.6" y2="226.44" stroke="#111" stroke-width="0.9" />
<line x1="414.40000000000003" y1="223.83" x2="416.6" y2="223.83" stroke="#111" stroke-width="0.9" />
<line x1="412.6" y1="221.5" x2="416.6" y2="221.5" stroke="#111" stroke-width="0.9" />
<text x="411.3" y="223.8" font-size="7.56" font-weight="bold" text-anchor="end" fill="#000" textLength="11.68" lengthAdjust="spacingAndGlyphs" >100</text>
<text x="411.3" y="274.8" font-size="7.56" font-weight="bold" text-anchor="end" fill="#000" textLength="7.79" lengthAdjust="spacingAndGlyphs" >10</text>
<text x="411.3" y="325.8" font-size="7.56" font-weight="bold" text-anchor="end" fill="#000" textLength="3.89" lengthAdjust="spacingAndGlyphs" >1</text>
<line x1="438.1" y1="323.5" x2="438.1" y2="327.0" stroke="#111" stroke-width="1" />
<line x1="481.9" y1="323.5" x2="481.9" y2="327.0" stroke="#111" stroke-width="1" />
<circle cx="438.1" cy="243.8" r="2.35" fill="#cbcbcb"/>
<circle cx="438.1" cy="258.2" r="2.35" fill="#cbcbcb"/>
<circle cx="432.3" cy="260" r="2.35" fill="#cbcbcb"/>
<circle cx="438.1" cy="264.6" r="2.35" fill="#cbcbcb"/>
<circle cx="443.8" cy="268.5" r="2.35" fill="#cbcbcb"/>
<circle cx="438.1" cy="271.5" r="2.35" fill="#cbcbcb"/>
<circle cx="432.3" cy="288.8" r="2.35" fill="#cbcbcb"/>
<circle cx="438.1" cy="289.5" r="2.35" fill="#cbcbcb"/>
<circle cx="438.1" cy="318.4" r="2.35" fill="#cbcbcb"/>
<rect x="479.5" y="242.6" width="4.8" height="4.8" fill="#000" stroke="none" stroke-width="1"/>
<rect x="485.3" y="239.8" width="4.8" height="4.8" fill="#000" stroke="none" stroke-width="1"/>
<rect x="479.5" y="256.4" width="4.8" height="4.8" fill="#000" stroke="none" stroke-width="1"/>
<rect x="479.5" y="266.8" width="4.8" height="4.8" fill="#000" stroke="none" stroke-width="1"/>
<rect x="473.8" y="272.1" width="4.8" height="4.8" fill="#000" stroke="none" stroke-width="1"/>
<rect x="479.5" y="274.2" width="4.8" height="4.8" fill="#000" stroke="none" stroke-width="1"/>
<rect x="485.3" y="271.9" width="4.8" height="4.8" fill="#000" stroke="none" stroke-width="1"/>
<rect x="485.3" y="279.5" width="4.8" height="4.8" fill="#000" stroke="none" stroke-width="1"/>
<rect x="479.5" y="284.6" width="4.8" height="4.8" fill="#000" stroke="none" stroke-width="1"/>
<line x1="423.5" y1="266" x2="453.1" y2="266" stroke="#222" stroke-width="1.1" />
<line x1="467.4" y1="262.3" x2="496.2" y2="262.3" stroke="#000" stroke-width="1.1" />
<text x="463.5" y="303" font-size="10.8" font-weight="normal" text-anchor="middle" fill="#111" >ns</text>
<text x="428.7" y="215" font-size="10.5" font-weight="normal" text-anchor="start" fill="#111" textLength="63" lengthAdjust="spacingAndGlyphs" >CD3+ T cells</text>
<text x="423" y="338.8" font-size="10.8" font-weight="normal" text-anchor="start" fill="#111" textLength="30.2" lengthAdjust="spacingAndGlyphs" >Saline</text>
<text x="463.3" y="338.8" font-size="10.8" font-weight="normal" text-anchor="start" fill="#111" textLength="34.3" lengthAdjust="spacingAndGlyphs" >DMOG</text>
<text x="43.3" y="274.5" font-size="10.86" font-weight="bold" text-anchor="middle" fill="#000" transform="rotate(-90 43.3 274.5)" textLength="111" lengthAdjust="spacingAndGlyphs" >% cells that are CD45.2+</text>
<polyline points="98.7,454.0 174.6,479.4 248.6,507.09" fill="none" stroke="#c8c8c8" stroke-width="1.5"/>
<polyline points="98.7,458.12 174.6,461.32 248.6,512.81" fill="none" stroke="#c8c8c8" stroke-width="1.5"/>
<polyline points="98.7,474.13 174.6,461.32 248.6,488.32" fill="none" stroke="#c8c8c8" stroke-width="1.5"/>
<polyline points="98.7,480.31 174.6,496.56 248.6,505.03" fill="none" stroke="#c8c8c8" stroke-width="1.5"/>
<polyline points="98.7,497.25 174.6,496.56 248.6,485.57" fill="none" stroke="#c8c8c8" stroke-width="1.5"/>
<polyline points="98.7,498.16 174.6,479.4 248.6,487.86" fill="none" stroke="#c8c8c8" stroke-width="1.5"/>
<polyline points="98.7,519.9 174.6,497.25 248.6,450.11" fill="none" stroke="#c8c8c8" stroke-width="1.5"/>
<polyline points="98.7,474.13 174.6,475.28 248.6,471.16" fill="none" stroke="#c8c8c8" stroke-width="1.5"/>
<polyline points="98.7,450.79 174.6,414.41 248.6,407.09" fill="none" stroke="#000" stroke-width="1.8" stroke-linejoin="round"/>
<polyline points="98.7,450.79 174.6,425.16 248.6,397.02" fill="none" stroke="#000" stroke-width="1.8" stroke-linejoin="round"/>
<polyline points="98.7,474.13 174.6,439.35 248.6,453.54" fill="none" stroke="#000" stroke-width="1.8" stroke-linejoin="round"/>
<polyline points="98.7,469.56 174.6,445.3 248.6,442.55" fill="none" stroke="#000" stroke-width="1.8" stroke-linejoin="round"/>
<polyline points="98.7,474.13 174.6,449.88 248.6,445.76" fill="none" stroke="#000" stroke-width="1.8" stroke-linejoin="round"/>
<polyline points="98.7,474.13 174.6,458.12 248.6,439.81" fill="none" stroke="#000" stroke-width="1.8" stroke-linejoin="round"/>
<polyline points="98.7,471.84 174.6,470.01 248.6,477.57" fill="none" stroke="#000" stroke-width="1.8" stroke-linejoin="round"/>
<polyline points="98.7,474.13 174.6,476.42 248.6,482.37" fill="none" stroke="#000" stroke-width="1.8" stroke-linejoin="round"/>
<polyline points="98.7,486.72 174.6,483.06 248.6,486.95" fill="none" stroke="#000" stroke-width="1.8" stroke-linejoin="round"/>
<rect x="98.7" y="382.6" width="149.89999999999998" height="137.29999999999995" fill="none" stroke="#1a1a1a" stroke-width="1.3"/>
<line x1="95.7" y1="519.9" x2="98.7" y2="519.9" stroke="#444" stroke-width="1" />
<text x="90.6" y="523.3" font-size="9.72" font-weight="normal" text-anchor="end" fill="#1a1a1a" textLength="5.01" lengthAdjust="spacingAndGlyphs" >0</text>
<line x1="95.7" y1="497.02" x2="98.7" y2="497.02" stroke="#444" stroke-width="1" />
<text x="90.6" y="500.41999999999996" font-size="9.72" font-weight="normal" text-anchor="end" fill="#1a1a1a" textLength="10.01" lengthAdjust="spacingAndGlyphs" >10</text>
<line x1="95.7" y1="474.13" x2="98.7" y2="474.13" stroke="#444" stroke-width="1" />
<text x="90.6" y="477.53" font-size="9.72" font-weight="normal" text-anchor="end" fill="#1a1a1a" textLength="10.01" lengthAdjust="spacingAndGlyphs" >20</text>
<line x1="95.7" y1="451.25" x2="98.7" y2="451.25" stroke="#444" stroke-width="1" />
<text x="90.6" y="454.65" font-size="9.72" font-weight="normal" text-anchor="end" fill="#1a1a1a" textLength="10.01" lengthAdjust="spacingAndGlyphs" >30</text>
<line x1="95.7" y1="428.37" x2="98.7" y2="428.37" stroke="#444" stroke-width="1" />
<text x="90.6" y="431.77" font-size="9.72" font-weight="normal" text-anchor="end" fill="#1a1a1a" textLength="10.01" lengthAdjust="spacingAndGlyphs" >40</text>
<line x1="95.7" y1="405.48" x2="98.7" y2="405.48" stroke="#444" stroke-width="1" />
<text x="90.6" y="408.88" font-size="9.72" font-weight="normal" text-anchor="end" fill="#1a1a1a" textLength="10.01" lengthAdjust="spacingAndGlyphs" >50</text>
<line x1="95.7" y1="382.6" x2="98.7" y2="382.6" stroke="#444" stroke-width="1" />
<text x="90.6" y="386.0" font-size="9.72" font-weight="normal" text-anchor="end" fill="#1a1a1a" textLength="10.01" lengthAdjust="spacingAndGlyphs" >60</text>
<line x1="98.2" y1="519.9" x2="98.2" y2="522.9" stroke="#444" stroke-width="1" />
<line x1="171.2" y1="519.9" x2="171.2" y2="522.9" stroke="#444" stroke-width="1" />
<line x1="248.6" y1="519.9" x2="248.6" y2="522.9" stroke="#444" stroke-width="1" />
<text x="98.2" y="534.6" font-size="10.04" font-weight="normal" text-anchor="middle" fill="#1a1a1a" textLength="5.17" lengthAdjust="spacingAndGlyphs" >8</text>
<text x="171.2" y="534.6" font-size="10.04" font-weight="normal" text-anchor="middle" fill="#1a1a1a" textLength="10.34" lengthAdjust="spacingAndGlyphs" >12</text>
<text x="244.8" y="534.6" font-size="10.04" font-weight="normal" text-anchor="middle" fill="#1a1a1a" textLength="10.34" lengthAdjust="spacingAndGlyphs" >16</text>
<text x="139.6" y="548.4" font-size="10.37" font-weight="normal" text-anchor="start" fill="#1a1a1a" textLength="61.5" lengthAdjust="spacingAndGlyphs" >time in weeks</text>
<text x="75.2" y="452" font-size="10.83" font-weight="bold" text-anchor="middle" fill="#000" transform="rotate(-90 75.2 452)" textLength="116" lengthAdjust="spacingAndGlyphs" >% cells that are CD45.2+</text>
<line x1="253" y1="401.7" x2="274.6" y2="401.7" stroke="#000" stroke-width="1.3" />
<line x1="253" y1="417.9" x2="274.6" y2="417.9" stroke="#c9c9c9" stroke-width="1.2" />
<text x="283.3" y="405.9" font-size="10.8" font-weight="normal" text-anchor="start" fill="#111" textLength="34" lengthAdjust="spacingAndGlyphs" >DMOG</text>
<text x="282.7" y="421.8" font-size="10.8" font-weight="normal" text-anchor="start" fill="#999" textLength="30" lengthAdjust="spacingAndGlyphs" >Saline</text>
<rect x="377.0" y="382.3" width="101.39999999999998" height="129.59999999999997" fill="none" stroke="#111" stroke-width="1"/>
<line x1="373.0" y1="511.9" x2="377.0" y2="511.9" stroke="#111" stroke-width="1" />
<text x="371.6" y="515.1" font-size="9.0" font-weight="bold" text-anchor="end" fill="#000" >0</text>
<line x1="373.0" y1="468.7" x2="377.0" y2="468.7" stroke="#111" stroke-width="1" />
<text x="371.6" y="471.9" font-size="9.0" font-weight="bold" text-anchor="end" fill="#000" >200</text>
<line x1="373.0" y1="425.5" x2="377.0" y2="425.5" stroke="#111" stroke-width="1" />
<text x="371.6" y="428.7" font-size="9.0" font-weight="bold" text-anchor="end" fill="#000" >400</text>
<line x1="373.0" y1="382.3" x2="377.0" y2="382.3" stroke="#111" stroke-width="1" />
<text x="371.6" y="385.5" font-size="9.0" font-weight="bold" text-anchor="end" fill="#000" >600</text>
<line x1="402.0" y1="511.9" x2="402.0" y2="515.4" stroke="#111" stroke-width="1" />
<line x1="453.6" y1="511.9" x2="453.6" y2="515.4" stroke="#111" stroke-width="1" />
<polygon points="399.5,438.4 402.2,435.7 404.9,438.4 402.2,441.09999999999997" fill="#cbcbcb" stroke="#cbcbcb" stroke-width="1" stroke-linejoin="round"/>
<polygon points="399.5,478.5 402.2,475.8 404.9,478.5 402.2,481.2" fill="#cbcbcb" stroke="#cbcbcb" stroke-width="1" stroke-linejoin="round"/>
<polygon points="399.5,491.1 402.2,488.40000000000003 404.9,491.1 402.2,493.8" fill="#cbcbcb" stroke="#cbcbcb" stroke-width="1" stroke-linejoin="round"/>
<polygon points="396.1,494.2 398.8,491.5 401.5,494.2 398.8,496.9" fill="#cbcbcb" stroke="#cbcbcb" stroke-width="1" stroke-linejoin="round"/>
<polygon points="407.1,494.7 409.8,492.0 412.5,494.7 409.8,497.4" fill="#cbcbcb" stroke="#cbcbcb" stroke-width="1" stroke-linejoin="round"/>
<polygon points="392.2,498.1 394.9,495.40000000000003 397.59999999999997,498.1 394.9,500.8" fill="#cbcbcb" stroke="#cbcbcb" stroke-width="1" stroke-linejoin="round"/>
<polygon points="399.5,500 402.2,497.3 404.9,500 402.2,502.7" fill="#cbcbcb" stroke="#cbcbcb" stroke-width="1" stroke-linejoin="round"/>
<polygon points="399.5,508.6 402.2,505.90000000000003 404.9,508.6 402.2,511.3" fill="#cbcbcb" stroke="#cbcbcb" stroke-width="1" stroke-linejoin="round"/>
<polygon points="407.1,508.1 409.8,505.40000000000003 412.5,508.1 409.8,510.8" fill="#cbcbcb" stroke="#cbcbcb" stroke-width="1" stroke-linejoin="round"/>
<rect x="450.7" y="400.1" width="5.8" height="5.8" fill="#000" stroke="none" stroke-width="1"/>
<rect x="450.7" y="412.7" width="5.8" height="5.8" fill="#000" stroke="none" stroke-width="1"/>
<rect x="446.5" y="453.8" width="5.8" height="5.8" fill="#000" stroke="none" stroke-width="1"/>
<rect x="442.6" y="457.8" width="5.8" height="5.8" fill="#000" stroke="none" stroke-width="1"/>
<rect x="450.7" y="458.6" width="5.8" height="5.8" fill="#000" stroke="none" stroke-width="1"/>
<rect x="458.3" y="456.2" width="5.8" height="5.8" fill="#000" stroke="none" stroke-width="1"/>
<rect x="450.7" y="475.6" width="5.8" height="5.8" fill="#000" stroke="none" stroke-width="1"/>
<rect x="450.7" y="486.6" width="5.8" height="5.8" fill="#000" stroke="none" stroke-width="1"/>
<rect x="450.7" y="502.6" width="5.8" height="5.8" fill="#000" stroke="none" stroke-width="1"/>
<line x1="385.2" y1="490.3" x2="419.8" y2="490.3" stroke="#222" stroke-width="1.1" />
<line x1="436.8" y1="459.4" x2="470.9" y2="459.4" stroke="#000" stroke-width="1.1" />
<text x="404" y="457" font-size="10.8" font-weight="normal" text-anchor="start" fill="#111" textLength="34.6" lengthAdjust="spacingAndGlyphs" >P=0.02</text>
<text x="384.2" y="534.3" font-size="10.8" font-weight="normal" text-anchor="start" fill="#111" textLength="30" lengthAdjust="spacingAndGlyphs" >Saline</text>
<text x="436.5" y="534.3" font-size="10.8" font-weight="normal" text-anchor="start" fill="#111" textLength="34.3" lengthAdjust="spacingAndGlyphs" >DMOG</text>
<text x="347.1" y="456.7" font-size="10.64" font-weight="bold" text-anchor="middle" fill="#000" transform="rotate(-90 347.1 456.7)" textLength="133.5" lengthAdjust="spacingAndGlyphs" >Repopulating units per femur</text>
</g>
</svg>
</body></html>
